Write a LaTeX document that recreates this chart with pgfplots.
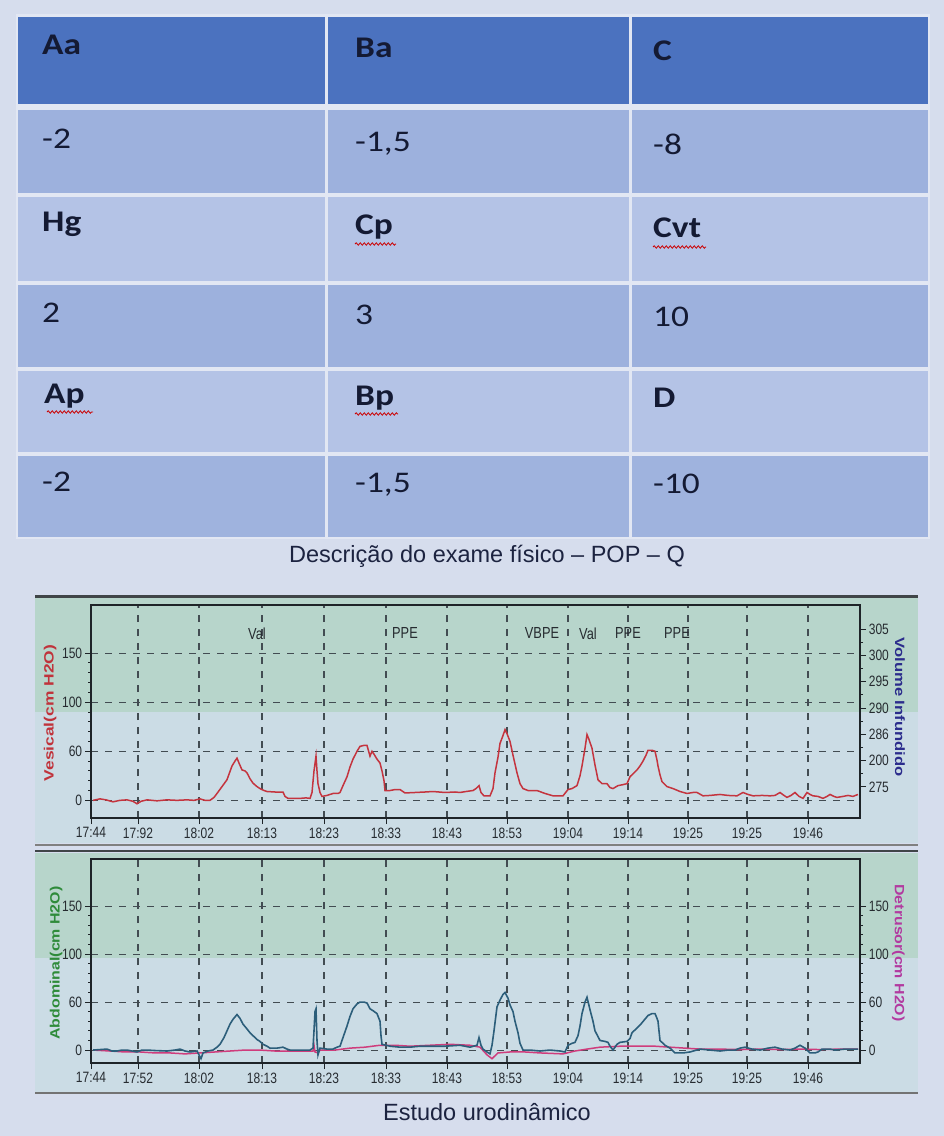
\documentclass[border=0pt]{standalone}
\usepackage{pgfplots}
\usepackage{pgfplotstable}
\pgfplotsset{compat=1.18}
\usepackage{fontspec}
\setmainfont{Liberation Sans}
\newfontfamily\tabfont{Carlito}
\usetikzlibrary{decorations.pathmorphing}
\definecolor{pagebg}{HTML}{D6DDED}
\definecolor{gapc}{HTML}{E2E7F3}
\definecolor{hdrc}{HTML}{4B72BF}
\definecolor{rowa}{HTML}{9DB1DD}
\definecolor{rowb}{HTML}{B4C3E6}
\definecolor{tabtxt}{HTML}{141A33}
\definecolor{bandg}{HTML}{B7D5CB}
\definecolor{bandl}{HTML}{CBDCE5}
\definecolor{framec}{HTML}{1E2428}
\definecolor{gridc}{HTML}{424C52}
\definecolor{ticktxt}{HTML}{262B30}
\definecolor{vesc}{HTML}{C4343E}
\definecolor{abdc}{HTML}{2C5E7A}
\definecolor{detc}{HTML}{CF3C7C}
\definecolor{abdlab}{HTML}{2E8B3A}
\definecolor{detlab}{HTML}{B23AA0}
\definecolor{vollab}{HTML}{2B2C8C}
\definecolor{veslab}{HTML}{C0333B}
\definecolor{capc}{HTML}{1C2340}

\pgfplotstableread{
x v
93 0
100 1.5
106 0.5
113 -1.5
120 0
127 0.5
133 -1
137 -3.5
141 -1
147 0.5
157 -0.5
167 0.5
177 0
187 0.5
194 0
200 1.5
205 0
210 0
214 3
217 7
222 14
227 21
232 35
235 40
237 43
239 38
242 31
245 30
247 28
250 22
253 17.5
257 14
260 12
264 10
267 9
275 8.5
283 8.5
285 4
288 2
300 2
306 2.5
310 2
312 8
314 30
316 45
317 30
318 17
320 8
322 4
327 5
333 7
338 7
340 8
343 15
347 24
350 34
353 42
357 50
360 55
364 56
367 56
370 45
372 50
374 47
377 42
380 38
382 30
384 20
385 10
390 10
395 11
400 11
405 7.5
415 8
425 8.5
433 9
445 8
455 8.5
460 8
466 9
473 10
476 12
479 15
481 8
484 4.5
490 4.5
493 12
495 28
498 44
500 58
503 66
505 72
507 68
510 60
513 46
517 28
520 17
523 12
528 10
537 10
545 7
553 4.6
563 4.6
568 11
572 12
577 15
580 25
582 35
585 53
587 67
589 62
592 53
595 36
598 21
602 17
607 17
610 13
613 12
618 15
623 16
627 17
630 24
634 28
637 31
640 35
643 40
646 46
648 51
652 51
655 50
657 41
658 35
660 26
662 19
667 14
673 12
680 9
687 7
693 8
697 8
703 4.6
710 5
720 6
728 5
737 4.6
743 8
748 6
753 4.6
762 5
770 4.6
775 5
780 8
784 5
787 3
791 5
795 8
799 4
803 2
807 8
810 6
813 4.6
818 4
823 2
827 4
830 6
834 4
837 3
843 4
848 5
853 4
858 6
}\vesical

\pgfplotstableread{
x v
93 0
100 0.5
107 1
112 -1
117 -1
122 0
127 0
132 -1
137 -2
142 0
147 0
155 -0.5
167 -1
175 0
180 1
185 -1
190 -2
197 -1
201 -9
203 -3
208 -1
213 0
217 3
220 6
224 13
227 20
230 27
233 32
237 37
240 33
243 27
247 22
250 18
254 14
257 11
260 9
263 6
267 4
270 2
277 2
283 3
287 1
290 0
300 0
310 0
313 2
314 20
315 40
316 43
317 10
318 -5
320 2
327 1
333 1
337 3
340 4
343 13
347 25
350 35
353 43
357 48
360 50
364 50
367 49
370 43
373 41
377 38
380 30
381 15
382 6
390 4
400 3
410 3
420 4
433 4
445 4
460 5
470 3
477 5
479 13
481 5
483 1
487 -2
490 -4
492 5
494 20
497 45
500 52
503 58
505 60
508 54
510 47
513 40
515 30
518 18
520 7
523 0
530 0
540 -1
550 0
560 -1
565 -2
568 5
572 7
575 8
578 15
580 25
582 38
585 50
587 55
590 42
593 30
595 20
598 14
600 10
605 9
608 8
610 4
613 0
617 6
620 8
627 9
630 12
632 18
636 22
640 26
644 31
648 36
652 38
655 38
657 33
658 30
659 20
660 10
663 7
665 5
670 2
675 -3
683 -3
690 -2
700 1
710 0
720 -1
728 0
735 0
740 2
745 3
752 1
760 0
768 2
775 3
782 1
790 0
795 2
800 5
805 2
810 -3
815 -3
818 -2
822 1
830 1
835 0
845 1
858 1
}\abdominal

\pgfplotstableread{
x v
93 0
110 -1
125 -2
140 -2
155 -3
170 -3
185 -4
200 -3
215 -2
230 -1
245 0
260 0
275 -1
290 -1
313 -1
314 5
315 -2
318 -3
320 0
335 0
350 2
365 3
380 5
395 5
410 4
430 5
450 6
470 5
480 3
487 -5
492 -9
498 -3
510 -2
525 -2
540 -3
563 -4
575 -1
587 1
600 3
620 4
640 4
655 4
670 3
685 2
700 1
720 1
740 0.5
760 1
780 0.5
800 1
820 0.5
840 1
858 1
}\detrusor

\tikzset{ylab/.style={font=\bfseries\fontsize{13.5}{13.5}\selectfont}}
\pgfplotsset{
  uro/.style={
    scale only axis, width=769pt,
    xmin=91, xmax=860, ymin=-18, ymax=199,
    xtick={91,138,199,262,324,386,447,507,568,628,688,747,808},
    ytick={0,50,100,150}, yticklabels={0,60,100,150},
    minor x tick num=3, minor y tick num=4,
    grid=major,
    major grid style={dash pattern=on 7pt off 7pt, line width=1.1pt, gridc},
    axis line style={line width=2.6pt, framec},
    tick style={framec, line width=0.9pt},
    tick align=outside, major tick length=6pt, minor tick length=3pt,
    xtick pos=left, ytick pos=left,
    ticklabel style={font=\fontsize{15}{15}\selectfont, text=ticktxt, xscale=0.8},
  },
  uroright/.style={
    scale only axis, width=769pt,
    xmin=91, xmax=860,
    axis x line=none, axis y line*=right,
    axis line style={line width=2.6pt, framec},
    tick style={framec, line width=0.9pt},
    tick align=outside, major tick length=6pt, minor tick length=3pt,
    minor y tick num=1,
    ticklabel style={font=\fontsize{15}{15}\selectfont, text=ticktxt, xscale=0.8},
  },
}

\begin{document}
\begin{tikzpicture}
\begin{scope}[x=1pt,y=-1pt]
\fill[pagebg] (0,0) rectangle (944,1136);
\useasboundingbox (0,0) rectangle (944,1136);
% table
\fill[gapc] (16,14) rectangle (930,539);
\foreach \c/\l/\r in {1/18/325,2/328/629,3/632/928}{
  \fill[hdrc] (\l,17) rectangle (\r,104);
  \fill[rowa] (\l,110) rectangle (\r,193);
  \fill[rowb] (\l,197) rectangle (\r,281);
  \fill[rowa] (\l,285) rectangle (\r,367);
  \fill[rowb] (\l,371) rectangle (\r,452);
  \fill[rowa!90!rowb] (\l,456) rectangle (\r,537);
}
\tikzset{tc/.style={anchor=base west, inner sep=0pt, text=tabtxt, font=\tabfont\fontsize{30}{30}\selectfont}}
\node[tc] at (42,54) {\scalebox{1.18}[1]{\bfseries Aa}};
\node[tc] at (355,57) {\scalebox{1.18}[1]{\bfseries Ba}};
\node[tc] at (653,60) {\scalebox{1.18}[1]{\bfseries C}};
\node[tc] at (42,148) {\scalebox{1.18}[1]{-2}};
\node[tc] at (355,151) {\scalebox{1.18}[1]{-1,5}};
\node[tc] at (653,154) {\scalebox{1.18}[1]{-8}};
\node[tc] at (42,231) {\scalebox{1.18}[1]{\bfseries Hg}};
\node[tc] at (355,234) {\scalebox{1.18}[1]{\bfseries Cp}};
\node[tc] at (653,237) {\scalebox{1.18}[1]{\bfseries Cvt}};
\node[tc] at (42,322) {\scalebox{1.18}[1]{2}};
\node[tc] at (355,324) {\scalebox{1.18}[1]{3}};
\node[tc] at (653,326) {\scalebox{1.18}[1]{10}};
\node[tc] at (44,403) {\scalebox{1.18}[1]{\bfseries Ap}};
\node[tc] at (355,405) {\scalebox{1.18}[1]{\bfseries Bp}};
\node[tc] at (653,407) {\scalebox{1.18}[1]{\bfseries D}};
\node[tc] at (42,491) {\scalebox{1.18}[1]{-2}};
\node[tc] at (355,492) {\scalebox{1.18}[1]{-1,5}};
\node[tc] at (653,493) {\scalebox{1.18}[1]{-10}};
\draw[red!80!black, line width=0.8pt, decorate, decoration={snake, amplitude=1.2pt, segment length=4pt}] (355,244) -- (396,244);
\draw[red!80!black, line width=0.8pt, decorate, decoration={snake, amplitude=1.2pt, segment length=4pt}] (653,247) -- (706,247);
\draw[red!80!black, line width=0.8pt, decorate, decoration={snake, amplitude=1.2pt, segment length=4pt}] (47,412) -- (93,412);
\draw[red!80!black, line width=0.8pt, decorate, decoration={snake, amplitude=1.2pt, segment length=4pt}] (355,414) -- (398,414);
\node[font=\fontsize{23.5}{23.5}\selectfont, text=capc] at (487,556) {Descrição do exame físico – POP – Q};
% chart panels
\fill[bandg] (35,597) rectangle (918,712);
\fill[bandl] (35,712) rectangle (918,843);
\fill[bandg] (35,853) rectangle (918,958);
\fill[bandl] (35,958) rectangle (918,1092);
\draw[line width=3pt, color=framec!85!white] (35,596) -- (918,596);
\draw[line width=2pt, color=gray] (35,845) -- (918,845);
\draw[line width=2.5pt, color=framec!85!white] (35,851) -- (918,851);
\draw[line width=2pt, color=gray!90!black] (35,1093) -- (918,1093);
\node[font=\fontsize{23.5}{23.5}\selectfont, text=capc] at (487,1112) {Estudo urodinâmico};
\end{scope}

% top chart
\begin{axis}[uro, at={(91pt,-605pt)}, anchor=north west, height=213pt,
  xticklabels={17:44,17:92,18:02,18:13,18:23,18:33,18:43,18:53,19:04,19:14,19:25,19:25,19:46},
  ylabel={\scalebox{1.29}[1]{Vesical(cm H2O)}},
  ylabel style={ylab, at={(axis description cs:-0.0533,0.493)}, anchor=center, text=veslab},
]
\addplot[vesc, line width=1.5pt] table[x=x,y=v] {\vesical};
\tikzset{ann/.style={font=\fontsize{16}{16}\selectfont, text=ticktxt, xscale=0.8}}
\node[ann] at (axis cs:257,170) {Val};
\node[ann] at (axis cs:405,170) {PPE};
\node[ann] at (axis cs:542,170) {VBPE};
\node[ann] at (axis cs:588,170) {Val};
\node[ann] at (axis cs:628,170) {PPE};
\node[ann] at (axis cs:677,170) {PPE};
\end{axis}
\begin{axis}[uroright, at={(91pt,-605pt)}, anchor=north west, height=213pt,
  ymin=-18, ymax=199,
  ytick={174.5,147.7,120.9,94.1,67.3,40.5,13.7},
  yticklabels={305,300,295,290,286,200,275},
  ylabel={\scalebox{1.23}[1]{Volume Infundido}},
  ylabel style={ylab, rotate=180, at={(axis description cs:1.052,0.521)}, anchor=center, text=vollab},
]
\end{axis}

% bottom chart
\begin{axis}[uro, at={(91pt,-859pt)}, anchor=north west, height=204pt,
  ymin=-13.5, ymax=199,
  xticklabels={17:44,17:52,18:02,18:13,18:23,18:33,18:43,18:53,19:04,19:14,19:25,19:25,19:46},
  ylabel={\scalebox{1.18}[1]{Abdominal(cm H2O)}},
  ylabel style={ylab, at={(axis description cs:-0.0455,0.49)}, anchor=center, text=abdlab},
]
\addplot[detc, line width=1.5pt] table[x=x,y=v] {\detrusor};
\addplot[abdc, line width=1.6pt] table[x=x,y=v] {\abdominal};
\end{axis}
\begin{axis}[uroright, at={(91pt,-859pt)}, anchor=north west, height=204pt,
  ymin=-13.5, ymax=199,
  ytick={0,50,100,150}, yticklabels={0,60,100,150},
  minor y tick num=4,
  ylabel={\scalebox{1.18}[1]{Detrusor(cm H2O)}},
  ylabel style={ylab, rotate=180, at={(axis description cs:1.050,0.539)}, anchor=center, text=detlab},
]
\end{axis}
\end{tikzpicture}
\end{document}
